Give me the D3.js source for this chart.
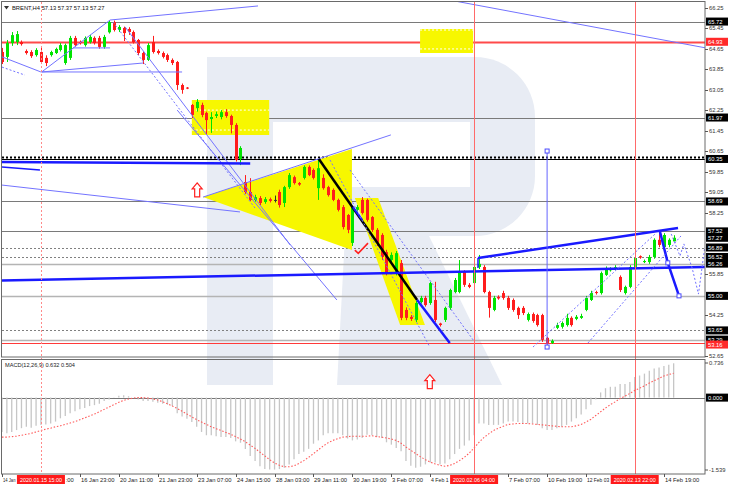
<!DOCTYPE html>
<html><head><meta charset="utf-8">
<script src="https://cdn.jsdelivr.net/npm/d3@7"></script>
<style>
html,body{margin:0;padding:0;background:#fff;overflow:hidden;}
svg text{font-family:"Liberation Sans",Arial,sans-serif;}
</style></head><body>
<svg id="c" width="730" height="487"></svg>
<script>
// ---------------- DATA ----------------
const opens = [64.53,64.34,64.88,64.92,64.92,64.57,64.53,64.41,64.53,64.30,
64.41,64.49,64.61,64.10,64.30,65.08,64.92,64.80,64.92,65.08,
65.08,64.73,65.30,65.70,65.39,65.47,65.43,65.31,65.00,64.49,
64.22,64.92,64.57,64.49,64.41,64.22,64.14,63.24,63.14,62.46,
62.34,62.46,62.15,61.91,62.03,61.99,62.18,62.03,61.68,60.35,
59.45,59.06,58.75,58.82,58.67,58.78,58.75,59.06,58.63,59.25,
59.64,59.41,59.61,60.04,59.92,59.21,59.61,59.25,59.14,58.75,
58.47,58.16,57.07,58.36,58.75,58.75,58.08,57.58,57.38,56.71,
56.40,55.89,56.28,54.45,54.18,54.06,54.76,54.92,54.72,54.84,
53.92,54.06,54.53,55.15,55.15,55.93,55.43,55.50,56.13,56.13,
55.15,54.45,54.96,55.11,54.92,54.84,54.53,54.53,54.06,54.29,
54.25,54.25,53.36,53.16,53.75,53.79,53.86,54.14,54.10,54.14,
54.45,54.84,55.15,55.11,55.82,56.00,56.05,55.74,55.11,55.35,
56.13,56.55,56.32,56.32,56.52,57.19,56.91,56.99,57.13];
const highs = [64.69,65.00,65.31,65.35,64.98,64.63,64.60,64.68,64.72,64.40,
64.58,64.70,64.88,64.86,65.16,65.16,64.98,65.14,65.20,65.14,
65.16,65.20,65.78,65.76,65.58,65.52,65.50,65.37,65.04,64.55,
64.88,65.16,64.63,64.55,64.47,64.28,64.18,63.30,63.16,62.50,
62.69,62.55,62.20,62.18,62.20,62.26,62.30,62.08,61.75,60.85,
59.72,59.60,58.95,58.90,58.86,58.84,58.92,59.15,59.30,59.80,
59.70,59.45,60.10,60.10,59.98,60.33,59.75,59.30,59.20,58.80,
58.55,58.20,58.52,58.55,58.86,58.80,58.12,57.65,57.45,56.80,
56.70,56.75,56.40,54.55,54.25,54.80,55.00,55.00,55.55,55.55,
53.95,54.58,55.28,55.70,56.40,56.00,55.50,56.50,56.60,56.20,
55.20,55.00,55.02,55.20,55.00,54.90,54.58,54.60,54.35,54.35,
54.30,54.30,53.40,53.30,53.95,54.00,54.30,54.20,54.25,54.30,
55.00,55.20,55.20,55.95,56.15,56.12,56.20,55.80,55.40,56.20,
56.55,56.58,56.42,56.60,57.25,57.52,57.45,57.25,57.37];
const lows = [64.06,64.14,64.77,64.80,64.78,64.43,64.30,64.35,64.06,63.98,
64.35,64.45,64.55,64.03,64.22,64.74,64.82,64.74,64.86,64.82,
64.66,64.66,65.25,65.33,65.31,64.96,65.20,64.86,64.41,64.06,
64.18,64.47,64.43,64.28,64.14,64.02,63.05,62.90,63.08,61.95,
62.20,61.98,61.29,61.37,61.95,61.90,61.96,61.35,60.25,60.11,
58.98,58.70,58.68,58.55,58.60,58.65,58.65,58.45,58.47,59.18,
59.35,59.30,59.55,59.68,59.55,58.75,59.15,58.88,58.70,58.30,
57.60,57.45,56.95,58.30,58.18,57.90,57.50,56.95,56.40,55.80,
56.30,55.80,54.05,54.05,54.02,53.98,54.70,54.58,54.65,53.98,
53.80,53.98,54.45,55.10,55.10,55.35,55.30,55.45,56.05,55.10,
54.15,54.40,54.85,54.85,54.45,54.38,54.10,54.25,54.00,53.95,
53.80,53.20,53.10,53.12,53.70,53.72,53.80,53.80,54.05,54.10,
54.40,54.80,55.05,55.05,55.78,55.95,56.00,55.15,55.05,55.30,
56.05,56.45,56.28,56.25,56.45,56.90,56.85,56.90,57.13];
const closes = [64.14,64.88,65.19,65.23,64.84,64.49,64.37,64.61,64.14,64.10,
64.53,64.65,64.80,64.80,65.08,64.80,64.88,65.08,65.12,64.88,
64.73,65.12,65.70,65.39,65.51,65.27,65.31,64.92,64.49,64.22,
64.80,64.53,64.49,64.34,64.22,64.10,63.24,63.05,63.10,62.07,
62.58,62.07,61.87,61.99,62.10,62.18,62.03,61.68,60.31,60.78,
59.06,58.75,58.86,58.63,58.78,58.71,58.75,58.55,59.25,59.72,
59.41,59.35,60.04,59.72,59.61,59.99,59.21,58.94,58.75,58.36,
57.69,57.58,58.47,58.47,58.24,57.97,57.58,57.07,56.52,55.89,
56.60,56.67,54.14,54.14,54.10,54.72,54.92,54.64,55.50,54.06,
53.86,54.53,55.23,55.62,55.93,55.43,55.35,56.13,56.25,55.15,
54.53,54.92,54.90,54.92,54.53,54.45,54.25,54.33,54.29,54.02,
53.86,53.28,53.16,53.24,53.86,53.94,54.14,53.86,54.18,54.21,
54.92,55.11,55.11,55.89,56.09,56.05,56.12,55.23,55.35,56.13,
56.48,56.50,56.36,56.52,57.19,56.99,57.38,57.19,57.27];
const macdHist = [-0.73,-0.76,-0.73,-0.69,-0.65,-0.62,-0.64,-0.60,-0.58,-0.57,
-0.55,-0.51,-0.44,-0.39,-0.33,-0.29,-0.25,-0.22,-0.18,-0.16,
-0.13,-0.07,-0.04,0.01,0.04,0.05,0.03,0.00,-0.04,-0.07,
-0.07,-0.09,-0.11,-0.13,-0.15,-0.18,-0.33,-0.40,-0.45,-0.52,
-0.62,-0.73,-0.80,-0.80,-0.82,-0.84,-0.84,-0.86,-0.93,-0.96,
-1.09,-1.24,-1.35,-1.46,-1.52,-1.53,-1.53,-1.52,-1.49,-1.42,
-1.31,-1.20,-1.15,-1.09,-0.98,-0.91,-0.80,-0.76,-0.76,-0.76,
-0.80,-0.87,-0.91,-0.89,-0.86,-0.79,-0.80,-0.84,-0.86,-0.95,
-1.00,-1.07,-1.14,-1.35,-1.45,-1.49,-1.47,-1.42,-1.38,-1.38,
-1.42,-1.40,-1.31,-1.20,-1.09,-1.02,-0.91,-0.80,-0.55,-0.55,
-0.58,-0.58,-0.58,-0.55,-0.51,-0.51,-0.52,-0.55,-0.55,-0.55,
-0.58,-0.65,-0.69,-0.69,-0.65,-0.62,-0.58,-0.51,-0.44,-0.36,
-0.25,-0.15,-0.04,0.11,0.20,0.23,0.23,0.29,0.29,0.33,
0.44,0.47,0.51,0.57,0.62,0.64,0.67,0.70,0.73];
const macdSignal = [-0.84,-0.84,-0.83,-0.82,-0.80,-0.78,-0.76,-0.73,-0.70,-0.67,
-0.65,-0.62,-0.60,-0.57,-0.54,-0.51,-0.47,-0.43,-0.39,-0.35,
-0.30,-0.25,-0.20,-0.15,-0.10,-0.06,-0.03,-0.01,0.00,0.00,
-0.01,-0.03,-0.05,-0.09,-0.13,-0.18,-0.23,-0.29,-0.35,-0.41,
-0.47,-0.52,-0.57,-0.62,-0.66,-0.70,-0.74,-0.78,-0.83,-0.88,
-0.94,-1.01,-1.08,-1.16,-1.24,-1.32,-1.39,-1.44,-1.47,-1.47,
-1.45,-1.40,-1.34,-1.27,-1.19,-1.11,-1.03,-0.96,-0.91,-0.87,
-0.84,-0.83,-0.82,-0.82,-0.82,-0.82,-0.81,-0.83,-0.84,-0.86,
-0.88,-0.91,-0.97,-1.05,-1.12,-1.19,-1.26,-1.32,-1.37,-1.41,
-1.44,-1.46,-1.44,-1.40,-1.34,-1.27,-1.18,-1.07,-0.95,-0.85,
-0.77,-0.70,-0.65,-0.61,-0.57,-0.56,-0.55,-0.55,-0.55,-0.56,
-0.57,-0.58,-0.59,-0.60,-0.61,-0.62,-0.62,-0.62,-0.60,-0.57,
-0.52,-0.46,-0.38,-0.30,-0.22,-0.15,-0.09,-0.02,0.03,0.09,
0.15,0.20,0.25,0.31,0.36,0.41,0.46,0.49,0.52];
const priceTicks = [66.25,65.45,64.65,63.85,63.05,62.25,61.45,60.65,59.85,59.05,58.25,55.85,54.25,52.65];
const levelValues = [65.72,64.93,61.97,60.35,58.69,57.52,56.89,56.52,56.26,55.00,53.65,53.29,53.16];
const levelKinds  = ["solid","red","solid","blackdot","solid","solid","dot","dot","light","light","dot","light","red1"];
const boxValues = [65.72,64.93,61.97,60.35,58.69,57.52,57.27,56.89,56.52,56.26,55.00,53.65,53.29,53.16];
const boxRed    = [false,true,false,false,false,false,false,false,false,false,false,false,false,true];
// time labels: visible text only (parts under the red cursor boxes are hidden in the reference)
const timeTickBars = [0,8,16,24,32,40,48,56,64,72,80,88,104,112,120,136];
const timeTickLabels = ["14 Jan",":00","16 Jan 23:00","20 Jan 11:00","21 Jan 23:00","23 Jan 07:00","24 Jan 15:00","28 Jan 03:00","29 Jan 11:00","30 Jan 19:00","3 Feb 07:00","4 Feb 1","7 Feb 07:00","10 Feb 19:00","12 Feb 03","14 Feb 19:00"];
const cursorBars = [8,97,130];
const cursorLabels = ["2020.01.15 15:00","2020.02.06 04:00","2020.02.13 22:00"];
const macdTicks = [0.736,-1.539];

// annotations in (bar index, price)
const yellowPolys = [
 [[41.3,58.86],[71.9,60.74],[71.9,56.79]],
 [[72.5,58.82],[77.3,58.82],[86.9,53.86],[81.8,53.86]],
 [[39.0,62.65],[54.9,62.65],[54.9,61.29],[39.0,61.29]],
 [[85.9,65.43],[96.8,65.43],[96.8,64.49],[85.9,64.49]]
];
const yellowDashes = [[39.0,54.9,62.26],[39.0,54.9,61.48],[85.9,96.8,65.39],[85.9,96.8,64.65]];
const annoLines = [
 {p:[[22.2,65.78],[52.6,66.33]], c:"#7373ff", w:1},
 {p:[[93.1,66.52],[144.6,64.69]], c:"#7373ff", w:1},
 {p:[[8.16,63.75],[22.2,65.78]], c:"#7373ff", w:1},
 {p:[[8.16,63.75],[29.0,64.10]], c:"#7373ff", w:1},
 {p:[[8.16,63.75],[37.0,63.75]], c:"#7373ff", w:1},
 {p:[[14.6,64.69],[22.2,64.69]], c:"#7373ff", w:1},
 {p:[[0,64.34],[8.0,63.75]], c:"#7373ff", w:1},
 {p:[[0,63.94],[4.7,63.63]], c:"#7373ff", w:1, d:"2,2"},
 {p:[[25.3,65.51],[59.2,56.99]], c:"#7373ff", w:1},
 {p:[[22.8,65.70],[52.0,58.43]], c:"#7373ff", w:1, d:"2,2"},
 {p:[[36.0,62.26],[68.8,54.84]], c:"#7373ff", w:1},
 {p:[[0,60.23],[51,60.17]], c:"#1a1aff", w:2.5},
 {p:[[0,60.04],[7.8,59.92]], c:"#1a1aff", w:1.5},
 {p:[[0,59.33],[48.9,58.28]], c:"#7373ff", w:1},
 {p:[[41.3,58.86],[79.9,61.29]], c:"#7373ff", w:1},
 {p:[[65.1,60.35],[85.3,54.84]], c:"#000000", w:2.5},
 {p:[[85.3,54.84],[92.0,53.16]], c:"#1a1aff", w:2.5},
 {p:[[72.1,58.47],[74.0,57.97]], c:"#1a1aff", w:2},
 {p:[[67.4,60.31],[87.9,53.00]], c:"#7373ff", w:1, d:"2,2"},
 {p:[[71.5,59.92],[96.8,53.28]], c:"#7373ff", w:1, d:"2,2"},
 {p:[[0,55.60],[144.4,56.13]], c:"#1a1aff", w:2.5},
 {p:[[97.8,56.48],[138.9,57.65]], c:"#1a1aff", w:2.5},
 {p:[[97.8,56.48],[97.8,56.09]], c:"#1a1aff", w:1.5},
 {p:[[135.2,57.50],[136.8,56.29],[139.1,55.00]], c:"#1a1aff", w:2.5},
 {p:[[137.5,57.42],[139.3,56.56],[140.1,57.03],[141.8,56.09],[143.1,55.07],[144.4,56.91]], c:"#7373ff", w:1, d:"2,2"},
 {p:[[109.1,53.00],[134.2,57.42]], c:"#7373ff", w:1, d:"2,2"},
 {p:[[120.4,53.16],[139.5,57.34]], c:"#7373ff", w:1, d:"2,2"},
 {p:[[112.0,60.66],[112.0,53.00]], c:"#6464ff", w:1}
];
const markers = [[112.0,60.66],[112.0,53.00],[136.8,56.29],[139.1,55.00]];
const checkMark = [[72.5,56.79],[73.2,56.66],[75.2,57.06]];
const arrowMain = [40.1,59.14];
const arrowMacd = [87.9,0.34];

// ---------------- DRAW ----------------
const svg = d3.select("#c");
const RIGHT = 705, TOP = 2, MAINB = 357, MTOP = 359, MBOT = 474;
const x = d3.scaleLinear().domain([0,138]).range([2, 2+4.867*138]);
const y = d3.scaleLinear().domain([52.65,66.25]).range([356,8]);
const ym = d3.scaleLinear().domain([-1.539,0.736]).range([470,363]);

const defs = svg.append("defs");
defs.append("clipPath").attr("id","cm").append("rect").attr("x",2).attr("y",TOP).attr("width",RIGHT-2).attr("height",MAINB-TOP);
defs.append("clipPath").attr("id","cd").append("rect").attr("x",2).attr("y",MTOP).attr("width",RIGHT-2).attr("height",MBOT-MTOP);

// watermark logo
const wm = svg.append("g").attr("fill","#e8ecf4");
wm.append("rect").attr("x",207).attr("y",57).attr("width",66).attr("height",328);
wm.append("path").attr("d","M207,57 H475 A60,60 0 0 1 535,117 V176 A60,60 0 0 1 475,236 H207 Z");
wm.append("path").attr("d","M345,236 H429 L502,385 H337 Z");
wm.append("rect").attr("x",273).attr("y",122).attr("width",197).attr("height",65).attr("fill","#fff");
wm.append("rect").attr("x",273).attr("y",187).attr("width",72).attr("height",49).attr("fill","#fff");

const main = svg.append("g").attr("clip-path","url(#cm)");
// level lines
levelValues.forEach((v,i)=>{
  const k = levelKinds[i];
  const yy = Math.round(y(v))+0.5;
  const ln = main.append("line").attr("x1",2).attr("x2",RIGHT).attr("y1",yy).attr("y2",yy);
  if(k==="solid") ln.attr("stroke","#7a7a7a").attr("stroke-width",1);
  else if(k==="light") ln.attr("stroke","#b4b4b4").attr("stroke-width",1.6);
  else if(k==="dot") ln.attr("stroke","#808080").attr("stroke-width",1).attr("stroke-dasharray","2,2");
  else if(k==="red") ln.attr("stroke","#ff4a4a").attr("stroke-width",2);
  else if(k==="red1") ln.attr("stroke","#ff3a3a").attr("stroke-width",1.2);
  else if(k==="blackdot"){
    ln.attr("stroke","#000").attr("stroke-width",1);
    main.append("line").attr("x1",2).attr("x2",RIGHT).attr("y1",yy-2).attr("y2",yy-2)
      .attr("stroke","#000").attr("stroke-width",2).attr("stroke-dasharray","2,2");
  }
});

// yellow shapes
const poly = pts => "M"+pts.map(q=>x(q[0])+","+y(q[1])).join("L")+"Z";
yellowPolys.forEach(pts=> main.append("path").attr("d",poly(pts)).attr("fill","#f7f700"));
yellowDashes.forEach(d=> main.append("line").attr("x1",x(d[0])).attr("x2",x(d[1])).attr("y1",y(d[2])).attr("y2",y(d[2]))
  .attr("stroke","#ffffff").attr("stroke-width",1).attr("stroke-dasharray","2,2"));

// candles
const cg = main.append("g");
opens.forEach((o,i)=>{
  const c = closes[i], h = highs[i], l = lows[i];
  const col = c>o ? "#00e400" : (c<o ? "#ff1c1c" : "#333333");
  const cx = Math.round(x(i))+0.5;
  cg.append("line").attr("x1",cx).attr("x2",cx).attr("y1",y(h)).attr("y2",y(l)).attr("stroke",col).attr("stroke-width",1);
  const top = y(Math.max(o,c)), bot = y(Math.min(o,c));
  cg.append("rect").attr("x",cx-1.5).attr("y",top).attr("width",3).attr("height",Math.max(1,bot-top)).attr("fill",col);
});

// annotation lines
const lineGen = d3.line().x(q=>x(q[0])).y(q=>y(q[1]));
annoLines.forEach(a=>{
  const p = main.append("path").attr("d",lineGen(a.p)).attr("fill","none").attr("stroke",a.c).attr("stroke-width",a.w);
  if(a.d) p.attr("stroke-dasharray",a.d);
});
markers.forEach(m=> main.append("rect").attr("x",x(m[0])-2).attr("y",y(m[1])-2).attr("width",4).attr("height",4)
  .attr("fill","#fff").attr("stroke","#4a4aff").attr("stroke-width",1));
main.append("path").attr("d",lineGen(checkMark)).attr("fill","none").attr("stroke","#ff2020").attr("stroke-width",1.6);

function arrow(g,cx,cy){
  g.append("path").attr("d",`M${cx},${cy-7} L${cx+5},${cy-1} L${cx+2.5},${cy-1} L${cx+2.5},${cy+7} L${cx-2.5},${cy+7} L${cx-2.5},${cy-1} L${cx-5},${cy-1} Z`)
   .attr("fill","#fff").attr("stroke","#ff2020").attr("stroke-width",1.2);
}
arrow(main, x(arrowMain[0]), y(arrowMain[1]));

// MACD
const md = svg.append("g").attr("clip-path","url(#cd)");
md.append("line").attr("x1",2).attr("x2",RIGHT).attr("y1",Math.round(ym(0))+0.5).attr("y2",Math.round(ym(0))+0.5).attr("stroke","#777").attr("stroke-width",1.2);
macdHist.forEach((v,i)=>{
  md.append("line").attr("x1",x(i)).attr("x2",x(i)).attr("y1",ym(0)).attr("y2",ym(v)).attr("stroke","#c6c6c6").attr("stroke-width",1.3);
});
md.append("path").attr("d",d3.line().x((v,i)=>x(i)).y(v=>ym(v))(macdSignal)).attr("fill","none")
  .attr("stroke","#ff5a5a").attr("stroke-width",1.1).attr("stroke-dasharray","1.5,1.8");
arrow(md, x(arrowMacd[0]), ym(arrowMacd[1]));
svg.append("text").attr("x",5).attr("y",367).attr("font-size",5.6).attr("fill","#222").text("MACD(12,26,9) 0.632 0.504");

// vertical cursors
[97,130].forEach(b=> svg.append("line").attr("x1",Math.round(x(b))+0.5).attr("x2",Math.round(x(b))+0.5).attr("y1",TOP).attr("y2",MBOT)
  .attr("stroke","#ff6a6a").attr("stroke-width",1));
svg.append("line").attr("x1",Math.round(x(8))+0.5).attr("x2",Math.round(x(8))+0.5).attr("y1",TOP).attr("y2",MBOT)
  .attr("stroke","#ff8a8a").attr("stroke-width",1).attr("stroke-dasharray","2,2");

// frames
const fr = svg.append("g").attr("fill","none").attr("stroke","#6a6a6a").attr("stroke-width",1);
fr.append("rect").attr("x",1.5).attr("y",1.5).attr("width",RIGHT-1.5).attr("height",MAINB-1.5);
fr.append("rect").attr("x",1.5).attr("y",MTOP+0.5).attr("width",RIGHT-1.5).attr("height",MBOT-MTOP-0.5);

// price axis
const ax = svg.append("g").attr("font-size",5.8).attr("fill","#333");
priceTicks.forEach(v=>{
  svg.append("line").attr("x1",RIGHT).attr("x2",RIGHT+3).attr("y1",Math.round(y(v))+0.5).attr("y2",Math.round(y(v))+0.5).attr("stroke","#555");
  ax.append("text").attr("x",709).attr("y",y(v)+2).text(v.toFixed(2));
});
boxValues.forEach((v,i)=>{
  const yy = y(v) + (boxRed[i] && i===boxValues.length-1 ? 1.6 : 0);
  svg.append("rect").attr("x",706).attr("y",yy-4).attr("width",22).attr("height",8).attr("fill",boxRed[i]?"#ff2a2a":"#000");
  svg.append("text").attr("x",708).attr("y",yy+2).attr("font-size",5.8).attr("fill","#fff").text(v.toFixed(2));
});
// macd axis
macdTicks.forEach(v=>{
  svg.append("line").attr("x1",RIGHT).attr("x2",RIGHT+3).attr("y1",ym(v)).attr("y2",ym(v)).attr("stroke","#555");
  ax.append("text").attr("x",709).attr("y",ym(v)+2).text(v.toFixed(3));
});
svg.append("rect").attr("x",706).attr("y",ym(0)-4).attr("width",22).attr("height",8).attr("fill","#000");
svg.append("text").attr("x",708).attr("y",ym(0)+2).attr("font-size",5.8).attr("fill","#fff").text("0.000");

// time axis
const BOXW = 48;
const boxLefts = cursorBars.map(b=>x(b)-BOXW/2);
const tg = svg.append("g").attr("font-size",5.8).attr("fill","#222");
timeTickBars.forEach((b,i)=>{
  const xx = Math.round(x(b))+0.5;
  const isCursor = cursorBars.indexOf(b) >= 0;
  if(!isCursor) svg.append("line").attr("x1",xx).attr("x2",xx).attr("y1",MBOT).attr("y2",MBOT+3).attr("stroke","#555");
  const tx = isCursor ? x(b)+BOXW/2+0.8 : xx+0.5;
  const t = tg.append("text").attr("x",tx).attr("y",482).text(timeTickLabels[i]);
  const w = t.node().getComputedTextLength();
  const nextBox = boxLefts.filter(l=>l>tx).sort((a,b)=>a-b)[0];
  if(nextBox!==undefined && tx+w > nextBox-1.5){
    t.attr("textLength", Math.max(4, nextBox-1.5-tx)).attr("lengthAdjust","spacingAndGlyphs");
  }
});
cursorBars.forEach((b,i)=>{
  const xx = x(b);
  svg.append("rect").attr("x",xx-BOXW/2).attr("y",475).attr("width",BOXW).attr("height",9).attr("fill","#ff1a1a");
  svg.append("text").attr("x",xx).attr("y",482).attr("text-anchor","middle").attr("font-size",5.4).attr("fill","#fff").text(cursorLabels[i]);
});

// title
svg.append("path").attr("d","M4,6 L9,6 L6.5,9.5 Z").attr("fill","#333");
svg.append("text").attr("x",12).attr("y",10).attr("font-size",5.8).attr("fill","#111").text("BRENT,H4 57.13 57.37 57.13 57.27");
</script>
</body></html>
